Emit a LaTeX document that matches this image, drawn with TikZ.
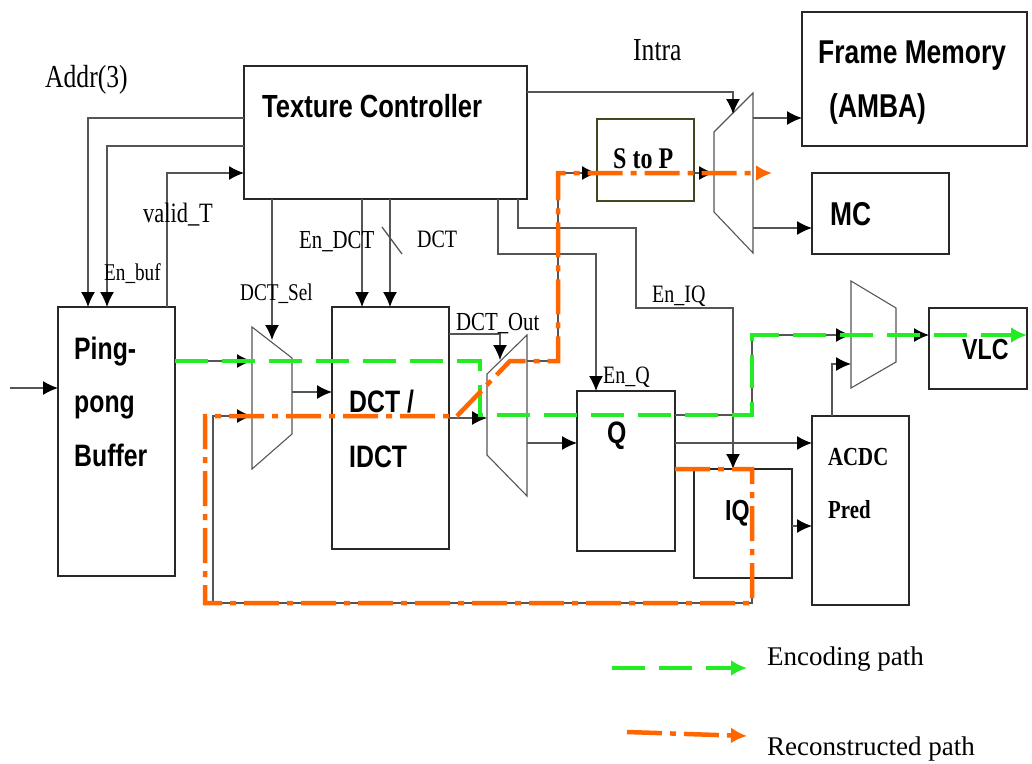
\documentclass[tikz,border=0pt]{standalone}
\usepackage{fontspec}
\setmainfont{Liberation Serif}
\newfontfamily\sigserif[FakeStretch=0.8]{Liberation Serif}
\newfontfamily\blksans[FakeStretch=0.8]{Liberation Sans}
\usetikzlibrary{arrows.meta}
\definecolor{encgreen}{RGB}{34,236,34}
\definecolor{recorange}{RGB}{255,102,0}
\definecolor{wiregray}{RGB}{85,85,85}
\definecolor{boxgray}{RGB}{40,40,40}

\begin{document}
\begin{tikzpicture}[x=1pt, y=-1pt,
    blk/.style={draw=boxgray, line width=1.2pt, inner sep=0pt, outer sep=0pt},
    wire/.style={draw=wiregray, line width=1.3pt},
    conn/.style={wire, -{Latex[length=15pt,width=14pt,color=black]}},
    mux/.style={draw=wiregray, line width=1.1pt},
    lbl/.style={font=\sigserif\fontsize{#1}{#1}\selectfont, inner sep=0pt, anchor=base west},
    btxt/.style={font=\blksans\bfseries\fontsize{#1}{#1}\selectfont, inner sep=0pt, anchor=base west},
    stxt/.style={font=\sigserif\bfseries\fontsize{#1}{#1}\selectfont, inner sep=0pt, anchor=base west},
    legtxt/.style={font=\fontsize{27}{27}\selectfont, inner sep=0pt, anchor=base west},
    enc/.style={draw=encgreen, line width=4.5pt, dash pattern=on 33pt off 14pt, -{Latex[length=16pt,width=16pt]}},
    rec/.style={draw=recorange, line width=4.5pt, dash pattern=on 35pt off 8pt on 6pt off 8pt, -{Latex[length=16pt,width=16pt]}}]
    \useasboundingbox (0,0) rectangle (1032,763);

    % blocks
    \node[blk, minimum width=283pt, minimum height=133pt] (tc) at (385.5,132.5) {};
    \node[blk, minimum width=117pt, minimum height=269pt] (pp) at (116.5,441.5) {};
    \node[blk, minimum width=117pt, minimum height=242pt] (dct) at (390.5,428) {};
    \node[blk, minimum width=98pt, minimum height=160pt] (q) at (626,471) {};
    \node[blk, minimum width=98pt, minimum height=109pt] (iq) at (743,523.5) {};
    \node[blk, minimum width=97pt, minimum height=189pt] (acdc) at (860.5,510.5) {};
    \node[blk, minimum width=98pt, minimum height=81pt] (vlc) at (978,348.5) {};
    \node[blk, minimum width=225pt, minimum height=134pt] (fm) at (914.5,79) {};
    \node[blk, minimum width=137pt, minimum height=81pt] (mc) at (880.5,213.5) {};
    \node[blk, draw={rgb,255:red,70;green,70;blue,30}, minimum width=97pt, minimum height=82pt] (stp) at (645.5,160) {};

    \node[btxt=32] (tctxt) at (262,117) {Texture Controller};
    \node[btxt=31] (pp1) at (74,359) {Ping-};
    \node[btxt=31] (pp2) at (74,412) {pong};
    \node[btxt=31] (pp3) at (74,466) {Buffer};
    \node[btxt=31] (dct1) at (349,412) {DCT /};
    \node[btxt=31] (dct2) at (349,467) {IDCT};
    \node[btxt=31] (qtxt) at (607,443) {Q};
    \node[btxt=29] (iqtxt) at (725,520) {IQ};
    \node[btxt=29] (vlctxt) at (962,359) {VLC};
    \node[btxt=33] (fm1) at (818,63) {Frame Memory};
    \node[btxt=33] (fm2) at (829,117) {(AMBA)};
    \node[btxt=33] (mctxt) at (830,225) {MC};
    \node[stxt=30] (stptxt) at (613,168) {S to P};
    \node[stxt=26] (acdc1) at (828,465) {ACDC};
    \node[stxt=26] (acdc2) at (828,518) {Pred};

    % multiplexers
    \draw[mux] (252,327) -- (292,358) -- (292,434) -- (252,469) -- cycle;
    \draw[mux] (487,374) -- (527,335) -- (527,496) -- (487,455) -- cycle;
    \draw[mux] (714,132) -- (753,93) -- (753,253) -- (714,212) -- cycle;
    \draw[mux] (851,281) -- (896,308) -- (896,362) -- (851,388) -- cycle;
    \coordinate (m1a) at (252,361); \coordinate (m1b) at (252,416);
    \coordinate (m1o) at (292,392); \coordinate (m1s) at (272,340);
    \coordinate (m2i) at (487,418); \coordinate (m2s) at (500,360);
    \coordinate (m2a) at (527,361); \coordinate (m2b) at (527,443);
    \coordinate (m3i) at (714,173); \coordinate (m3s) at (733,114);
    \coordinate (m3a) at (753,118); \coordinate (m3b) at (753,228);
    \coordinate (m4a) at (851,335); \coordinate (m4b) at (851,364);
    \coordinate (m4o) at (896,335);
    \coordinate (in) at (10,388);

    % control lines
    \draw[conn] (tc.west|-0,118) -| (pp.north-|88,0);
    \draw[conn] (tc.west|-0,146) -| (pp.north-|107,0);
    \draw[conn] (pp.north-|167,0) |- (tc.west|-0,173);
    \draw[conn] (tc.south-|272,0) -- (m1s);
    \draw[conn] (tc.south-|362,0) -- (dct.north-|362,0);
    \draw[conn] (tc.south-|390,0) -- (dct.north-|390,0);
    \draw[wire] (382,227) -- (402,254);
    \draw[conn] (dct.east|-0,334) -| (m2s);
    \draw[conn] (tc.east|-0,92) -| (m3s);
    \draw[conn] (tc.south-|498,0) |- (596,254) -- (q.north-|596,0);
    \draw[conn] (tc.south-|518,0) |- (636,228) |- (733,308) -- (iq.north-|733,0);

    \node[lbl=32] (addr) at (45,87) {Addr(3)};
    \node[lbl=28] (valid) at (143,222) {valid\_T};
    \node[lbl=24] (enbuf) at (104,280) {En\_buf};
    \node[lbl=24] (dctsel) at (240,300) {DCT\_Sel};
    \node[lbl=26] (endct) at (299,248) {En\_DCT};
    \node[lbl=25] (dctlbl) at (417,247) {DCT};
    \node[lbl=26] (dctout) at (456,330) {DCT\_Out};
    \node[lbl=25] (enq) at (603,383) {En\_Q};
    \node[lbl=25] (eniq) at (652,302) {En\_IQ};
    \node[lbl=32] (intra) at (633,60) {Intra};

    % data path
    \draw[conn] (in) -- (pp.west|-in);
    \draw[conn] (pp.east|-m1a) -- (m1a);
    \draw[conn] (m1o) -- (dct.west|-m1o);
    \draw[conn] (dct.east|-m2i) -- (m2i);
    \draw[conn] (m2a) -- (m2a-|558,0) |- (stp.west|-m3i);
    \draw[conn] (m2b) -- (q.west|-m2b);
    \draw[conn] (stp.east|-m3i) -- (m3i);
    \draw[conn] (m3a) -- (fm.west|-m3a);
    \draw[conn] (m3b) -- (mc.west|-m3b);
    \draw[conn] (q.east|-0,415) -| (752,335) -- (m4a);
    \draw[conn] (q.east|-0,443) -- (acdc.west|-0,443);
    \draw[wire] (q.east|-iq.north) -- (iq.north west);
    \draw[conn] (iq.east|-0,526) -- (acdc.west|-0,526);
    \draw[conn] (acdc.north-|832,0) |- (m4b);
    \draw[conn] (m4o) -- (vlc.west|-m4o);
    \draw[conn] (iq.south-|752,0) -- (752,603) -| (213,416) -- (m1b);

    % encoding / reconstructed paths
    \coordinate (recend) at (772,173);
    \draw[enc] (pp.east|-m1a) -- (480,361) -- (480,415) -- (752,415) -- (752,335) -- (vlc.east|-m4o);
    \draw[rec] (q.east|-iq.north) -- (752,469) -- (752,603) -- (205,603) -- (205,416) -- (457,416)
        -- (510,361) -- (558,361) -- (558,173) -- (recend);

    % legend
    \coordinate (lga) at (612,668); \coordinate (lgb) at (747,668);
    \coordinate (lgc) at (627,732); \coordinate (lgd) at (747,736);
    \draw[enc] (lga) -- (lgb);
    \draw[rec] (lgc) -- (lgd);
    \node[legtxt] (lgenc) at (767,665) {Encoding path};
    \node[legtxt] (lgrec) at (767,755) {Reconstructed path};
\end{tikzpicture}
\end{document}
